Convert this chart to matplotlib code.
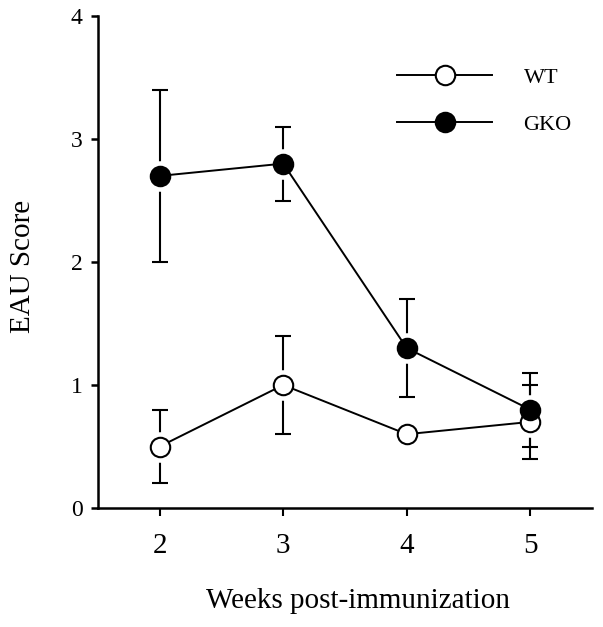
import matplotlib.pyplot as plt
import numpy as np

weeks = [2, 3, 4, 5]
wt_mean = [0.5, 1.0, 0.6, 0.7]
wt_err = [0.3, 0.4, 0.0, 0.3]
gko_mean = [2.7, 2.8, 1.3, 0.8]
gko_err = [0.7, 0.3, 0.4, 0.3]

plt.rcParams['font.family'] = ['Liberation Serif', 'DejaVu Serif']

fig = plt.figure(figsize=(6.03, 6.27), dpi=100)
ax = fig.add_axes([98 / 603, 1 - 508 / 627, 494 / 603, 492 / 627])

ms = 14
for mean, err, face, label in [(wt_mean, wt_err, 'white', 'WT'),
                               (gko_mean, gko_err, 'black', 'GKO')]:
    # error bars sit behind a white halo so they stop short of the marker
    ax.errorbar(weeks, mean, yerr=err, fmt='none', ecolor='black',
                elinewidth=1.5, capsize=5.5, capthick=1.5, zorder=1)
    ax.plot(weeks, mean, 'o', color='white', markersize=ms + 8,
            markeredgewidth=0, zorder=2)
    ax.plot(weeks, mean, '-o', color='black', linewidth=1.4,
            markerfacecolor=face, markeredgecolor='black',
            markeredgewidth=1.5, markersize=ms, zorder=3, label=label)

ax.set_xlim(1.5, 5.5)
ax.set_ylim(0, 4)
ax.set_xticks(weeks)
ax.set_yticks([0, 1, 2, 3, 4])
ax.spines['top'].set_visible(False)
ax.spines['right'].set_visible(False)
ax.spines['left'].set_linewidth(1.8)
ax.spines['bottom'].set_linewidth(1.8)
ax.tick_params(axis='y', direction='out', length=5, width=1.8, pad=6, labelsize=17)
ax.tick_params(axis='x', direction='out', length=6, width=1.5, pad=12, labelsize=21)

ax.set_xlabel('Weeks post-immunization', fontsize=21)
ax.xaxis.set_label_coords(0.526, -0.163)
ax.set_ylabel('EAU Score', fontsize=21)
ax.yaxis.set_label_coords(-0.125, 0.49)

ax.legend(loc='upper left', bbox_to_anchor=(0.605, 0.896), frameon=False,
          fontsize=16, handlelength=4.3, handletextpad=1.4, labelspacing=1.2,
          borderpad=0, borderaxespad=0)

fig.savefig('out.png', dpi=100)
